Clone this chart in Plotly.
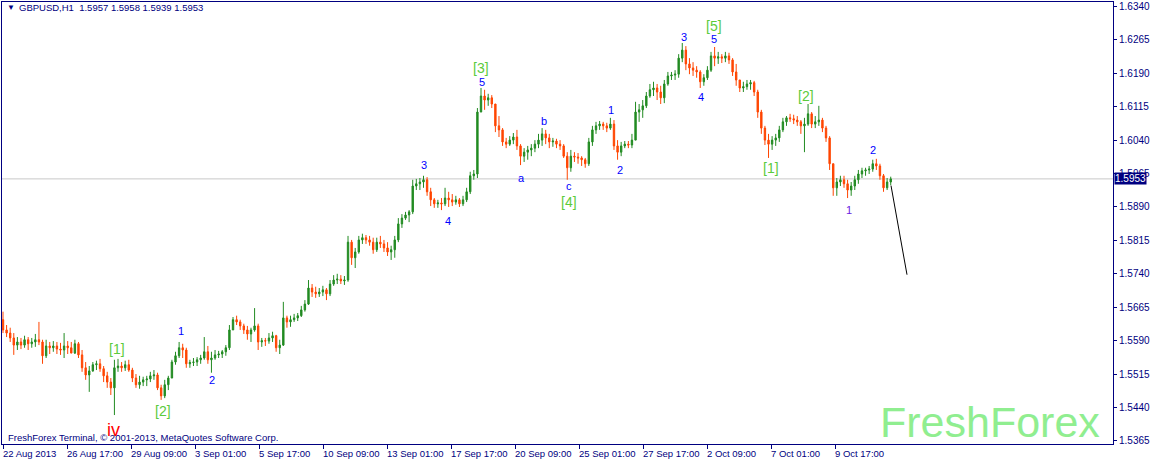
import plotly.graph_objects as go

# ---------------- data (aggregated candles) ----------------
first_open = 1.5637
close = [
    1.5614,1.5607,1.5596,1.5580,1.5587,1.5580,1.5592,1.5583,1.5587,1.5592,1.5587,1.5556,1.5578,1.5574,1.5578,1.5571,
    1.5569,1.5578,1.5574,1.5562,1.5583,1.5558,1.5529,1.5513,1.5522,1.5536,1.5538,1.5527,1.5511,1.5497,1.5484,1.5529,
    1.5533,1.5529,1.5536,1.5524,1.5506,1.5491,1.5497,1.5502,1.5504,1.5511,1.5513,1.5484,1.5466,1.5491,1.5506,1.5542,
    1.5556,1.5574,1.5569,1.5538,1.5541,1.5542,1.5547,1.5551,1.5565,1.5547,1.5551,1.5558,1.5560,1.5565,1.5574,1.5614,
    1.5637,1.5632,1.5623,1.5614,1.5605,1.5614,1.5623,1.5587,1.5590,1.5589,1.5596,1.5601,1.5574,1.5580,1.5641,1.5632,
    1.5637,1.5641,1.5646,1.5659,1.5672,1.5708,1.5699,1.5695,1.5699,1.5704,1.5695,1.5717,1.5726,1.5728,1.5724,1.5726,
    1.5811,1.5776,1.5789,1.5816,1.5821,1.5816,1.5811,1.5794,1.5811,1.5807,1.5798,1.5789,1.5794,1.5816,1.5852,1.5865,
    1.5872,1.5879,1.5937,1.5942,1.5946,1.5951,1.5924,1.5906,1.5897,1.5899,1.5897,1.5910,1.5906,1.5901,1.5906,1.5897,
    1.5906,1.5924,1.5960,1.5964,1.6103,1.6139,1.6130,1.6135,1.6121,1.6072,1.6063,1.6036,1.6031,1.6040,1.6047,1.6027,
    1.6004,1.6013,1.6018,1.6022,1.6031,1.6040,1.6054,1.6045,1.6036,1.6038,1.6031,1.6027,1.6004,1.5978,1.6004,1.6002,
    1.6000,1.5996,1.5987,1.6036,1.6063,1.6072,1.6076,1.6072,1.6067,1.6076,1.6027,1.6013,1.6027,1.6031,1.6029,1.6040,
    1.6103,1.6108,1.6117,1.6139,1.6153,1.6157,1.6148,1.6135,1.6166,1.6184,1.6186,1.6188,1.6224,1.6242,1.6211,1.6202,
    1.6197,1.6193,1.6171,1.6180,1.6197,1.6229,1.6224,1.6227,1.6224,1.6229,1.6220,1.6193,1.6175,1.6157,1.6160,1.6166,
    1.6169,1.6148,1.6103,1.6067,1.6040,1.6031,1.6040,1.6045,1.6063,1.6081,1.6090,1.6088,1.6085,1.6081,1.6072,1.6076,
    1.6099,1.6076,1.6081,1.6085,1.6067,1.6045,1.5987,1.5933,1.5946,1.5951,1.5942,1.5928,1.5937,1.5951,1.5964,1.5971,
    1.5973,1.5975,1.5987,1.5982,1.5960,1.5933,1.5946,1.5953,
]
high = [
    1.5655,1.5625,1.5619,1.5607,1.5598,1.5596,1.5601,1.5598,1.5596,1.5605,1.5632,1.5592,1.5592,1.5587,1.5589,1.5587,
    1.5585,1.5607,1.5589,1.5587,1.5592,1.5587,1.5569,1.5542,1.5533,1.5542,1.5545,1.5549,1.5533,1.5520,1.5506,1.5547,
    1.5549,1.5542,1.5545,1.5547,1.5529,1.5515,1.5511,1.5509,1.5511,1.5520,1.5524,1.5518,1.5491,1.5502,1.5511,1.5547,
    1.5565,1.5587,1.5583,1.5574,1.5547,1.5551,1.5553,1.5558,1.5598,1.5578,1.5565,1.5569,1.5567,1.5569,1.5580,1.5625,
    1.5643,1.5646,1.5637,1.5628,1.5623,1.5619,1.5663,1.5628,1.5596,1.5596,1.5607,1.5610,1.5603,1.5592,1.5677,1.5646,
    1.5646,1.5650,1.5652,1.5668,1.5681,1.5726,1.5717,1.5711,1.5708,1.5713,1.5708,1.5726,1.5737,1.5740,1.5737,1.5735,
    1.5825,1.5816,1.5798,1.5825,1.5830,1.5827,1.5825,1.5821,1.5821,1.5825,1.5816,1.5811,1.5803,1.5825,1.5865,1.5874,
    1.5879,1.5883,1.5951,1.5953,1.5955,1.5960,1.5957,1.5933,1.5910,1.5906,1.5910,1.5933,1.5924,1.5919,1.5915,1.5910,
    1.5915,1.5933,1.5969,1.5973,1.6112,1.6157,1.6153,1.6144,1.6141,1.6121,1.6094,1.6067,1.6045,1.6049,1.6056,1.6063,
    1.6031,1.6022,1.6027,1.6031,1.6040,1.6054,1.6067,1.6063,1.6054,1.6045,1.6043,1.6040,1.6031,1.6013,1.6018,1.6013,
    1.6011,1.6004,1.6000,1.6045,1.6072,1.6081,1.6083,1.6081,1.6079,1.6090,1.6085,1.6040,1.6036,1.6038,1.6038,1.6054,
    1.6126,1.6121,1.6130,1.6148,1.6166,1.6171,1.6166,1.6162,1.6175,1.6193,1.6193,1.6197,1.6233,1.6258,1.6251,1.6224,
    1.6215,1.6206,1.6197,1.6188,1.6206,1.6238,1.6249,1.6238,1.6233,1.6238,1.6236,1.6224,1.6211,1.6175,1.6171,1.6175,
    1.6175,1.6173,1.6153,1.6108,1.6072,1.6054,1.6049,1.6054,1.6072,1.6090,1.6094,1.6099,1.6097,1.6094,1.6085,1.6090,
    1.6121,1.6103,1.6094,1.6117,1.6090,1.6072,1.6049,1.5987,1.5955,1.5960,1.5960,1.5951,1.5946,1.5960,1.5973,1.5978,
    1.5978,1.5982,1.5996,1.5998,1.5987,1.5964,1.5955,1.5958,
]
low = [
    1.5607,1.5598,1.5587,1.5558,1.5569,1.5571,1.5574,1.5569,1.5574,1.5576,1.5580,1.5538,1.5551,1.5560,1.5565,1.5560,
    1.5558,1.5551,1.5560,1.5562,1.5560,1.5551,1.5520,1.5502,1.5475,1.5520,1.5524,1.5520,1.5497,1.5484,1.5468,1.5423,
    1.5520,1.5520,1.5522,1.5520,1.5497,1.5484,1.5482,1.5488,1.5488,1.5497,1.5502,1.5479,1.5457,1.5461,1.5479,1.5506,
    1.5536,1.5551,1.5551,1.5529,1.5529,1.5533,1.5533,1.5538,1.5547,1.5538,1.5518,1.5547,1.5551,1.5551,1.5556,1.5569,
    1.5614,1.5625,1.5614,1.5605,1.5592,1.5587,1.5610,1.5569,1.5576,1.5578,1.5583,1.5587,1.5565,1.5560,1.5578,1.5619,
    1.5621,1.5632,1.5634,1.5643,1.5655,1.5670,1.5688,1.5686,1.5688,1.5690,1.5681,1.5690,1.5713,1.5717,1.5717,1.5715,
    1.5722,1.5760,1.5753,1.5785,1.5807,1.5807,1.5803,1.5785,1.5789,1.5798,1.5789,1.5780,1.5771,1.5776,1.5811,1.5843,
    1.5861,1.5856,1.5874,1.5928,1.5928,1.5933,1.5915,1.5892,1.5888,1.5888,1.5883,1.5892,1.5890,1.5892,1.5895,1.5890,
    1.5892,1.5901,1.5919,1.5951,1.5955,1.6103,1.6108,1.6117,1.6112,1.6058,1.6047,1.6027,1.6022,1.6027,1.6031,1.6018,
    1.5984,1.5991,1.5996,1.6004,1.6013,1.6022,1.6027,1.6031,1.6022,1.6025,1.6022,1.6018,1.6000,1.5951,1.5969,1.5991,
    1.5987,1.5982,1.5978,1.5982,1.6027,1.6054,1.6063,1.6063,1.6058,1.6063,1.6018,1.5996,1.6004,1.6022,1.6022,1.6022,
    1.6040,1.6081,1.6090,1.6112,1.6135,1.6139,1.6130,1.6121,1.6123,1.6162,1.6175,1.6175,1.6180,1.6215,1.6197,1.6188,
    1.6184,1.6180,1.6157,1.6162,1.6175,1.6193,1.6206,1.6211,1.6213,1.6215,1.6211,1.6184,1.6162,1.6148,1.6148,1.6153,
    1.6153,1.6139,1.6090,1.6054,1.6029,1.6000,1.6018,1.6027,1.6036,1.6058,1.6072,1.6081,1.6076,1.6072,1.6054,1.6013,
    1.6072,1.6067,1.6067,1.6072,1.6058,1.6036,1.5973,1.5915,1.5915,1.5937,1.5933,1.5910,1.5915,1.5928,1.5942,1.5955,
    1.5960,1.5964,1.5969,1.5973,1.5951,1.5924,1.5928,1.5939,
]
open_ = [first_open] + close[:-1]

# x axis is measured in hourly bars (one MT4 H1 bar per unit); each candle above spans ~3.59 bars
HOURS_PER_CANDLE = 3.594
bar_hour = [i * HOURS_PER_CANDLE for i in range(len(close))]

tick_pos = [0, 64, 128, 192, 256, 320, 384, 448, 512, 576, 640, 704, 768, 832]
tick_text = ["22 Aug 2013", "26 Aug 17:00", "29 Aug 09:00", "3 Sep 01:00", "5 Sep 17:00",
             "10 Sep 09:00", "13 Sep 01:00", "17 Sep 17:00", "20 Sep 09:00",
             "25 Sep 01:00", "27 Sep 17:00", "2 Oct 09:00", "7 Oct 01:00", "9 Oct 17:00"]

price_ticks = [1.5365, 1.5440, 1.5515, 1.5590, 1.5665, 1.5740, 1.5815, 1.5890,
               1.5965, 1.6040, 1.6115, 1.6190, 1.6265, 1.6340]
last_price = 1.5953
title_text = "GBPUSD,H1  1.5957 1.5958 1.5939 1.5953"

proj_x = [888, 904]
proj_y = [1.5938, 1.5738]

wave_text = ["iv", "[1]", "[2]", "1", "2", "3", "4", "5", "[3]", "a", "b", "c", "[4]",
             "1", "2", "3", "4", "5", "[5]", "[1]", "[2]", "1", "2"]
wave_x = [110, 114, 160, 178, 209, 421, 445, 479, 478, 518, 541, 566, 566,
          608, 617, 681, 698, 711, 711, 768, 803, 846, 870]
wave_y = [1.5390, 1.5572, 1.5433, 1.5612, 1.5502, 1.5984, 1.5858, 1.6170, 1.6203, 1.5955, 1.6082,
          1.5937, 1.5901, 1.6107, 1.5973, 1.6271, 1.6136, 1.6266, 1.6297, 1.5977, 1.6138, 1.5883, 1.6017]
wave_kind = ["red", "g", "g", "b", "b", "b", "b", "b", "g", "b", "b", "b", "g",
             "b", "b", "b", "b", "b", "g", "g", "g", "p", "b"]

# ---------------- styling ----------------
NAVY = "#000080"
UP = "#228B22"
DOWN = "#FF4500"
FONT = "Liberation Sans"
kind_style = {"red": ("#FF0000", 18), "g": ("#5CCB3C", 14), "b": ("#0000FF", 11), "p": ("#6A1AE0", 11)}

W, H = 1154, 463
ML, MR, MT, MB = 2, 41, 2, 19
PW, PH = W - ML - MR, H - MT - MB


def px_x(px):
    return (px - ML) / PW


def px_y(py):
    return (H - MB - py) / PH


fig = go.Figure()
fig.add_trace(go.Candlestick(
    x=bar_hour, open=open_, high=high, low=low, close=close,
    increasing=dict(line=dict(color=UP, width=1), fillcolor=UP),
    decreasing=dict(line=dict(color=DOWN, width=1), fillcolor=DOWN),
    whiskerwidth=0, showlegend=False, hoverinfo="skip",
))
fig.add_trace(go.Scatter(x=proj_x, y=proj_y, mode="lines",
                         line=dict(color="black", width=1), showlegend=False, hoverinfo="skip"))

shapes = [dict(type="line", xref="paper", x0=0, x1=1, yref="y", y0=last_price, y1=last_price,
               line=dict(color="#C8C8C8", width=1), layer="below")]

ann = []
for t, x, y, k in zip(wave_text, wave_x, wave_y, wave_kind):
    c, s = kind_style[k]
    ann.append(dict(x=x, y=y, xref="x", yref="y", text=t, showarrow=False,
                    font=dict(family=FONT, size=s, color=c), xanchor="center", yanchor="middle"))
for p, t in zip(tick_pos, tick_text):
    ann.append(dict(x=p, y=px_y(454), xref="x", yref="paper", text=t, showarrow=False,
                    xanchor="left", yanchor="middle", xshift=-2,
                    font=dict(family=FONT, size=9.5, color=NAVY)))
ann.append(dict(x=1, xref="paper", xanchor="left", xshift=1, y=last_price, yref="y", yanchor="middle",
                text=f"{last_price:.4f}", showarrow=False, bgcolor=NAVY, borderpad=0,
                font=dict(family=FONT, size=10, color="white")))
ann.append(dict(x=px_x(5), y=px_y(8), xref="paper", yref="paper", text="▼", showarrow=False,
                xanchor="left", yanchor="middle", font=dict(family=FONT, size=8, color=NAVY)))
ann.append(dict(x=px_x(17), y=px_y(8), xref="paper", yref="paper", text=title_text, showarrow=False,
                xanchor="left", yanchor="middle", font=dict(family=FONT, size=9.5, color=NAVY)))
ann.append(dict(x=px_x(6), y=px_y(437), xref="paper", yref="paper",
                text="FreshForex Terminal, © 2001-2013, MetaQuotes Software Corp.", showarrow=False,
                xanchor="left", yanchor="middle", font=dict(family=FONT, size=9.5, color=NAVY)))
ann.append(dict(x=px_x(878), y=px_y(422), xref="paper", yref="paper", text="FreshForex", showarrow=False,
                xanchor="left", yanchor="middle", font=dict(family=FONT, size=43, color="#90EE90")))

fig.update_layout(
    width=W, height=H, margin=dict(l=ML, r=MR, t=MT, b=MB),
    paper_bgcolor="white", plot_bgcolor="white",
    font=dict(family=FONT, size=10, color=NAVY),
    shapes=shapes, annotations=ann, showlegend=False, boxgap=0.45,
    xaxis=dict(range=[-1, 1110], rangeslider=dict(visible=False), showgrid=False, zeroline=False,
               showline=True, mirror=True, linecolor=NAVY, linewidth=1,
               tickmode="array", tickvals=tick_pos, showticklabels=False,
               ticks="outside", ticklen=4, tickcolor=NAVY),
    yaxis=dict(range=[1.5358, 1.6350], side="right", showgrid=False, zeroline=False,
               showline=True, mirror=True, linecolor=NAVY, linewidth=1,
               tickmode="array", tickvals=price_ticks, ticktext=[f"{v:.4f}" for v in price_ticks],
               ticks="outside", ticklen=3, tickcolor=NAVY,
               tickfont=dict(family=FONT, size=10, color=NAVY)),
)

fig.write_html("out.html", config={"displayModeBar": False},
               post_script="document.body.style.margin='0';")
